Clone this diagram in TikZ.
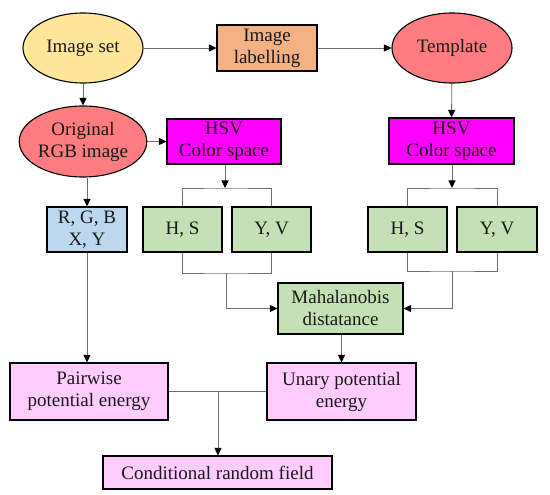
\documentclass[tikz,border=0pt]{standalone}
\usepackage{fontspec}
\setmainfont{Liberation Serif}
\usetikzlibrary{shapes.geometric,arrows.meta}
\definecolor{cyellow}{RGB}{255,230,153}
\definecolor{corange}{RGB}{244,177,131}
\definecolor{cred}{RGB}{255,124,128}
\definecolor{cmag}{RGB}{255,0,255}
\definecolor{cblue}{RGB}{189,215,238}
\definecolor{cgreen}{RGB}{197,224,180}
\definecolor{cpink}{RGB}{255,204,255}
\definecolor{cline}{RGB}{110,110,110}
\tikzset{
  base/.style={draw=black,line width=1.1pt,align=center,inner sep=0pt,
    font=\fontsize{19}{22}\selectfont,text=black!90},
  ell/.style={base,ellipse},
  boxn/.style={base,rectangle},
  conn/.style={draw=cline,line width=0.9pt},
  arr/.style={conn,-{Triangle[length=7.5pt,width=7pt,color=black]}},
}
\begin{document}
\begin{tikzpicture}[x=1pt,y=-1pt]
\useasboundingbox (0,0) rectangle (550,495);
% row 1
\node[ell,fill=cyellow,minimum width=120pt,minimum height=70pt] (imgset) at (83,48) {Image set};
\node[boxn,fill=corange,minimum width=100pt,minimum height=46pt] (label) at (267,48) {Image\\labelling};
\node[ell,fill=cred,minimum width=120pt,minimum height=70pt] (templ) at (452,48) {Template};
% row 2
\node[ell,fill=cred,minimum width=120pt,minimum height=71pt] (orig) at (83,141.5) {Original\\RGB image};
\node[boxn,fill=cmag,minimum width=114pt,minimum height=45pt] (hsvL) at (224,141.5) {HSV\\Color space};
\node[boxn,fill=cmag,minimum width=125pt,minimum height=46pt] (hsvR) at (451.5,141) {HSV\\Color space};
% row 3
\node[boxn,fill=cblue,minimum width=80pt,minimum height=45pt] (rgb) at (87,229.5) {R, G, B\\X, Y};
\node[boxn,fill=cgreen,minimum width=79pt,minimum height=45pt] (hsL) at (182.5,229.5) {H, S};
\node[boxn,fill=cgreen,minimum width=79pt,minimum height=45pt] (yvL) at (271.5,229.5) {Y, V};
\node[boxn,fill=cgreen,minimum width=79pt,minimum height=45pt] (hsR) at (407.5,229.5) {H, S};
\node[boxn,fill=cgreen,minimum width=80pt,minimum height=45pt] (yvR) at (497,229.5) {Y, V};
% row 4
\node[boxn,fill=cgreen,minimum width=125pt,minimum height=51pt] (maha) at (340.5,308.5) {Mahalanobis\\distatance};
% row 5
\node[boxn,fill=cpink,minimum width=158pt,minimum height=57pt] (pair) at (89,391.5) {Pairwise\\potential energy};
\node[boxn,fill=cpink,minimum width=149pt,minimum height=57pt] (unary) at (341.5,391.5) {Unary potential\\energy};
\node[boxn,fill=cpink,minimum width=229pt,minimum height=33pt] (crf) at (217.5,472.5) {Conditional random field};
% junction coordinates
\coordinate (tL) at (225,188);
\coordinate (tR) at (452,188);
\coordinate (bL) at (226,273);
\coordinate (bR) at (452,271);
\coordinate (jP) at (218,392);
% connectors
\draw[arr] (imgset) -- (label);
\draw[arr] (label) -- (templ);
\draw[arr] (imgset) -- (orig);
\draw[arr] (orig) -- (hsvL);
\draw[arr] (templ) -- (hsvR);
\draw[arr] (orig.south -| rgb.north) -- (rgb.north);
\draw[arr] (hsvL.south -| tL) -- (tL);
\draw[arr] (hsvR.south -| tR) -- (tR);
\draw[conn] (hsL.north) |- (tL) -| (yvL.north);
\draw[conn] (hsR.north) |- (tR) -| (yvR.north);
\draw[conn] (hsL.south) |- (bL) -| (yvL.south);
\draw[conn] (hsR.south) |- (bR) -| (yvR.south);
\draw[arr] (bL) |- (maha.west);
\draw[arr] (bR) |- (maha.east);
\draw[arr] (rgb.south) -- (rgb.south |- pair.north);
\draw[arr] (maha.south -| unary.north) -- (unary.north);
\draw[conn] (pair.east) -- (unary.west);
\draw[arr] (jP) -- (jP |- crf.north);
\end{tikzpicture}
\end{document}
